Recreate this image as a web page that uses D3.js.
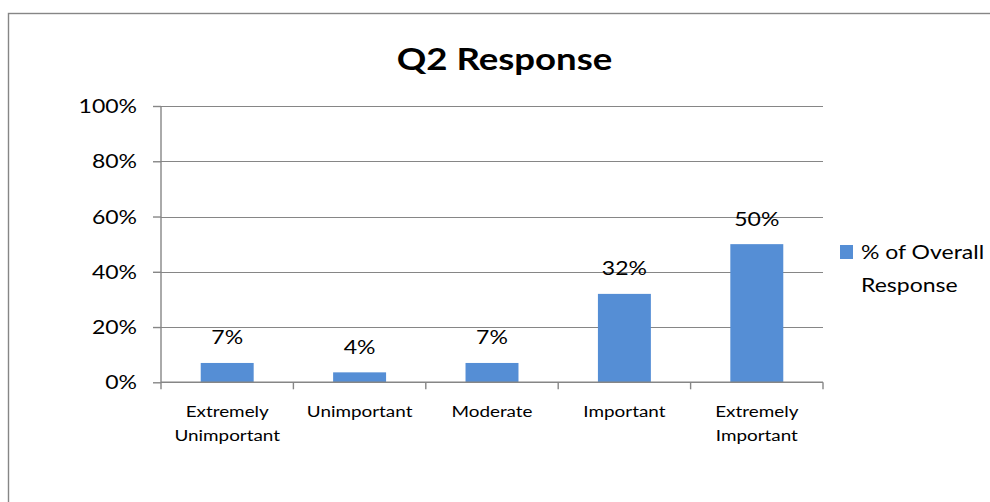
<!DOCTYPE html>
<html>
<head>
<meta charset="utf-8">
<script src="https://cdn.jsdelivr.net/npm/d3@7"></script>
<style>
  html, body { margin: 0; padding: 0; background: #fff; }
  svg { display: block; }
  text { font-family: Lato, "Open Sans", sans-serif; fill: #000; }
</style>
</head>
<body>
<svg id="chart" width="990" height="502"></svg>
<script>
const categories = [["Extremely", "Unimportant"], ["Unimportant"], ["Moderate"], ["Important"], ["Extremely", "Important"]];
const categoryKeys = ["Extremely Unimportant", "Unimportant", "Moderate", "Important", "Extremely Important"];
const values = [0.07, 0.036, 0.07, 0.32, 0.50];
const yTicks = [0, 0.2, 0.4, 0.6, 0.8, 1.0];
const seriesName = ["% of Overall", "Response"];
const titleText = "Q2 Response";

const SX = 1.18; // horizontal stretch of text like the reference
const svg = d3.select("#chart");
const gridColor = "#868686";
const barColor = "#558ed5";

// outer border
svg.append("rect").attr("x", 8.5).attr("y", 13.5).attr("width", 1000).attr("height", 520)
  .attr("fill", "none").attr("stroke", gridColor).attr("stroke-width", 1.4);

const plot = { left: 161, right: 823, top: 106, bottom: 382.3 };

const x = d3.scaleBand().domain(categoryKeys).range([plot.left, plot.right])
  .paddingInner(0.6).paddingOuter(0.3);
const y = d3.scaleLinear().domain([0, 1]).range([plot.bottom, plot.top]);

function stext(g, px, py, str, size, anchor, weight) {
  return g.append("text")
    .attr("transform", `translate(${px},${py}) scale(${SX},1)`)
    .attr("text-anchor", anchor || "start")
    .style("font-size", size + "px")
    .style("font-weight", weight || "normal")
    .text(str);
}

// gridlines
svg.append("g").selectAll("line").data(yTicks.filter(d => d > 0)).join("line")
  .attr("x1", plot.left).attr("x2", plot.right)
  .attr("y1", d => Math.round(y(d)) + 0.5).attr("y2", d => Math.round(y(d)) + 0.5)
  .attr("stroke", gridColor).attr("stroke-width", 1.2);

// y axis
const yAxisG = svg.append("g").attr("transform", `translate(${plot.left},0)`)
  .call(d3.axisLeft(y).tickValues(yTicks).tickSize(8).tickFormat(""));
yAxisG.selectAll("path, line").attr("stroke", gridColor).attr("stroke-width", 1.4);
yAxisG.select(".domain").attr("d", `M0,${plot.bottom}V${plot.top}`);
yTicks.forEach(t => stext(svg, 137, y(t) + 7, d3.format(".0%")(t), 19.5, "end"));

// bars
svg.append("g").selectAll("rect").data(values).join("rect")
  .attr("x", (d, i) => x(categoryKeys[i]))
  .attr("y", d => y(d))
  .attr("width", x.bandwidth())
  .attr("height", d => y(0) - y(d))
  .attr("fill", barColor);

// x axis
const step = x.step();
const boundaries = d3.range(categoryKeys.length + 1).map(i => plot.left + i * step);
svg.append("line").attr("x1", plot.left).attr("x2", plot.right)
  .attr("y1", plot.bottom).attr("y2", plot.bottom)
  .attr("stroke", gridColor).attr("stroke-width", 1.4);
svg.append("g").selectAll("line").data(boundaries).join("line")
  .attr("x1", d => d).attr("x2", d => d)
  .attr("y1", plot.bottom).attr("y2", plot.bottom + 7)
  .attr("stroke", gridColor).attr("stroke-width", 1.4);

// category labels
categories.forEach((lines, i) => {
  const cx = x(categoryKeys[i]) + x.bandwidth() / 2;
  lines.forEach((ln, j) => stext(svg, cx, 416.7 + j * 24.5, ln, 16, "middle"));
});

// data labels
values.forEach((v, i) => {
  const cx = x(categoryKeys[i]) + x.bandwidth() / 2;
  stext(svg, cx, y(v) - 18.5, d3.format(".0%")(v), 19.5, "middle");
});

// title
stext(svg, 504.5, 69.5, titleText, 31, "middle", "bold");

// legend
svg.append("rect").attr("x", 840).attr("y", 245).attr("width", 13).attr("height", 14).attr("fill", barColor);
seriesName.forEach((ln, j) => stext(svg, 861, 259.3 + j * 32.4, ln, 19.5, "start"));
</script>
</body>
</html>
